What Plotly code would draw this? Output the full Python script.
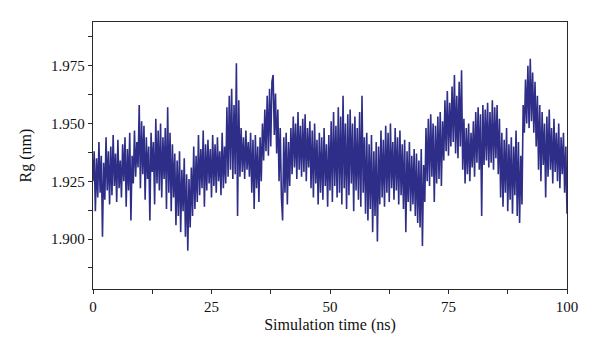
import plotly.graph_objects as go

# Simulation time (ns), sampled every 0.25 ns
time_ns = [i * 0.25 for i in range(401)]

# Radius of gyration (nm)
rg_nm = [
    1.925, 1.938, 1.912, 1.935, 1.918, 1.942, 1.920, 1.936,
    1.901, 1.933, 1.917, 1.944, 1.921, 1.938, 1.915, 1.940,
    1.919, 1.945, 1.923, 1.937, 1.916, 1.943, 1.922, 1.934,
    1.918, 1.941, 1.925, 1.944, 1.914, 1.939, 1.921, 1.946,
    1.908, 1.936, 1.924, 1.947, 1.927, 1.942, 1.931, 1.958,
    1.922, 1.951, 1.928, 1.949, 1.917, 1.944, 1.926, 1.940,
    1.908, 1.946, 1.929, 1.942, 1.915, 1.952, 1.924, 1.947,
    1.921, 1.950, 1.918, 1.944, 1.926, 1.948, 1.913, 1.957,
    1.920, 1.946, 1.912, 1.941, 1.918, 1.937, 1.906, 1.934,
    1.910, 1.938, 1.903, 1.930, 1.912, 1.935, 1.901, 1.928,
    1.895, 1.926, 1.905, 1.931, 1.910, 1.940, 1.913, 1.936,
    1.916, 1.945, 1.919, 1.939, 1.922, 1.947, 1.914, 1.941,
    1.921, 1.943, 1.924, 1.939, 1.918, 1.945, 1.923, 1.941,
    1.920, 1.944, 1.925, 1.938, 1.919, 1.946, 1.922, 1.940,
    1.924, 1.957, 1.927, 1.962, 1.930, 1.965, 1.926, 1.958,
    1.928, 1.976, 1.910, 1.960, 1.927, 1.948, 1.929, 1.944,
    1.926, 1.947, 1.930, 1.942, 1.927, 1.946, 1.920, 1.943,
    1.913, 1.945, 1.922, 1.940, 1.916, 1.944, 1.925, 1.950,
    1.934, 1.956, 1.938, 1.962, 1.936, 1.965, 1.940, 1.968,
    1.971, 1.945, 1.963, 1.937, 1.956, 1.925, 1.948, 1.918,
    1.908, 1.944, 1.920, 1.946, 1.915, 1.942, 1.923, 1.948,
    1.928, 1.953, 1.931, 1.950, 1.926, 1.955, 1.930, 1.949,
    1.927, 1.952, 1.929, 1.954, 1.925, 1.948, 1.931, 1.951,
    1.922, 1.947, 1.918, 1.950, 1.924, 1.943, 1.915, 1.946,
    1.920, 1.944, 1.917, 1.948, 1.923, 1.941, 1.914, 1.945,
    1.921, 1.951, 1.916, 1.955, 1.923, 1.949, 1.918, 1.957,
    1.920, 1.953, 1.915, 1.962, 1.922, 1.950, 1.913, 1.954,
    1.919, 1.956, 1.924, 1.950, 1.912, 1.953, 1.921, 1.948,
    1.917, 1.955, 1.914, 1.962, 1.920, 1.944, 1.911, 1.946,
    1.908, 1.941, 1.913, 1.945, 1.903, 1.938, 1.910, 1.942,
    1.899, 1.940, 1.915, 1.947, 1.918, 1.943, 1.914, 1.949,
    1.920, 1.946, 1.916, 1.950, 1.922, 1.942, 1.917, 1.948,
    1.921, 1.944, 1.915, 1.947, 1.919, 1.941, 1.913, 1.943,
    1.903, 1.938, 1.916, 1.942, 1.912, 1.936, 1.915, 1.939,
    1.910, 1.937, 1.907, 1.934, 1.905, 1.939, 1.897, 1.932,
    1.916, 1.948, 1.925, 1.952, 1.923, 1.954, 1.927, 1.950,
    1.916, 1.949, 1.924, 1.953, 1.926, 1.955, 1.923, 1.951,
    1.934, 1.960, 1.938, 1.964, 1.936, 1.959, 1.940, 1.966,
    1.942, 1.971, 1.937, 1.962, 1.935, 1.968, 1.940, 1.973,
    1.930, 1.952, 1.924, 1.948, 1.928, 1.950, 1.925, 1.946,
    1.931, 1.951, 1.927, 1.955, 1.933, 1.957, 1.930, 1.954,
    1.910, 1.958, 1.932, 1.956, 1.934, 1.959, 1.931, 1.955,
    1.933, 1.960, 1.930, 1.957, 1.935, 1.958, 1.928, 1.952,
    1.918, 1.946, 1.914, 1.943, 1.920, 1.948, 1.912, 1.941,
    1.917, 1.944, 1.911, 1.940, 1.919, 1.947, 1.910, 1.942,
    1.907, 1.936, 1.915, 1.958, 1.946, 1.969, 1.950, 1.975,
    1.948, 1.978, 1.951, 1.972, 1.946, 1.968, 1.940, 1.962,
    1.930, 1.958, 1.925, 1.955, 1.932, 1.950, 1.918, 1.953,
    1.927, 1.956, 1.930, 1.948, 1.924, 1.952, 1.929, 1.946,
    1.925, 1.950, 1.922, 1.944, 1.928, 1.946, 1.920, 1.940,
    1.911,
]

x_tick_vals = [0, 25, 50, 75, 100]
y_tick_vals = [1.900, 1.925, 1.950, 1.975]
y_tick_text = ["1.900", "1.925", "1.950", "1.975"]

FONT = "Liberation Serif"
LINE_COLOR = "#2e2e88"
AXIS_COLOR = "#2a2a2a"

fig = go.Figure()
fig.add_trace(go.Scatter(
    x=time_ns, y=rg_nm, mode="lines",
    line=dict(color=LINE_COLOR, width=1.6),
    showlegend=False, hoverinfo="skip",
))

fig.update_layout(
    width=600, height=360,
    margin=dict(l=85, r=41, t=14, b=79),
    paper_bgcolor="white", plot_bgcolor="white",
    font=dict(family=FONT, size=14, color="#111"),
)

fig.update_xaxes(
    range=[0, 100], tickvals=x_tick_vals, ticktext=[str(v) for v in x_tick_vals],
    ticks="outside", ticklen=4, tickwidth=1, tickcolor=AXIS_COLOR,
    minor=dict(ticks="outside", dtick=12.5, tick0=0, ticklen=4, tickcolor=AXIS_COLOR, showgrid=False),
    showline=True, linecolor=AXIS_COLOR, linewidth=1.3, mirror=True,
    showgrid=False, zeroline=False, automargin=False,
    title=dict(text="Simulation time (ns)", font=dict(family=FONT, size=16), standoff=4),
    tickfont=dict(family=FONT, size=15),
)
fig.update_yaxes(
    range=[1.8784, 1.9939], tickvals=y_tick_vals, ticktext=y_tick_text,
    ticks="outside", ticklen=4, tickwidth=1, tickcolor=AXIS_COLOR,
    minor=dict(ticks="outside", dtick=0.0125, tick0=1.9, ticklen=4, tickcolor=AXIS_COLOR, showgrid=False),
    showline=True, linecolor=AXIS_COLOR, linewidth=1.3, mirror=True,
    showgrid=False, zeroline=False, automargin=False,
    title=dict(text="Rg (nm)", font=dict(family=FONT, size=16)),
    tickfont=dict(family=FONT, size=15),
)

fig.write_html("out.html")
